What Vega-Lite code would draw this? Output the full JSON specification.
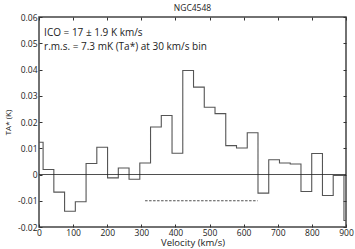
{
  "$schema": "https://vega.github.io/schema/vega-lite/v6.json",
  "autosize": "none",
  "width": 307,
  "height": 210,
  "padding": {"left": 39, "top": 17, "right": 9, "bottom": 22},
  "background": "white",
  "title": {"text": "NGC4548", "fontSize": 8.5, "font": "Open Sans", "fontWeight": "normal", "color": "#222", "offset": 1, "anchor": "middle"},
  "config": {
    "view": {"stroke": "#444", "strokeWidth": 1.5},
    "axis": {"labelFont": "Open Sans", "titleFont": "Open Sans", "labelColor": "#222", "titleColor": "#222", "grid": false, "domain": false, "tickColor": "#333", "tickWidth": 1}
  },
  "datasets": {
    "spec": [
      {"v": -19.5, "t": 0.0123}, {"v": 12, "t": 0.0019}, {"v": 43.5, "t": -0.0067}, {"v": 75, "t": -0.014},
      {"v": 106.5, "t": -0.0104}, {"v": 138, "t": 0.0042}, {"v": 169.5, "t": 0.0104}, {"v": 201, "t": -0.0013},
      {"v": 232.5, "t": 0.0025}, {"v": 264, "t": -0.0018}, {"v": 295.5, "t": 0.0044}, {"v": 327, "t": 0.0181},
      {"v": 358.5, "t": 0.0225}, {"v": 390, "t": 0.0081}, {"v": 421.5, "t": 0.0396}, {"v": 453, "t": 0.0333},
      {"v": 484.5, "t": 0.0256}, {"v": 516, "t": 0.0232}, {"v": 547.5, "t": 0.011}, {"v": 579, "t": 0.0101},
      {"v": 610.5, "t": 0.0159}, {"v": 642, "t": -0.0071}, {"v": 673.5, "t": 0.0056}, {"v": 705, "t": 0.0044},
      {"v": 736.5, "t": 0.004}, {"v": 768, "t": -0.0065}, {"v": 799.5, "t": 0.008}, {"v": 831, "t": -0.008},
      {"v": 862.5, "t": -0.0004}, {"v": 894, "t": -0.0175}, {"v": 925.5, "t": -0.0175}
    ],
    "zero": [{"v": 0, "t": 0}, {"v": 900, "t": 0}],
    "dash": [{"v": 311, "t": -0.01}, {"v": 641, "t": -0.01}],
    "notes": [
      {"v": 15, "t": 0.0527, "label": "ICO = 17 ± 1.9 K km/s"},
      {"v": 15, "t": 0.0474, "label": "r.m.s. = 7.3 mK (Ta*) at 30 km/s bin"}
    ]
  },
  "resolve": {"axis": {"x": "independent", "y": "independent"}},
  "layer": [
    {
      "data": {"name": "spec"},
      "mark": {"type": "line", "interpolate": "step-after", "clip": true, "color": "#555", "strokeWidth": 1.1},
      "encoding": {
        "x": {"field": "v", "type": "quantitative", "scale": {"domain": [0, 900], "nice": false},
          "axis": {"title": "Velocity (km/s)", "titleFontSize": 9.5, "titleFontWeight": "normal", "titlePadding": 1, "labelFontSize": 8.5, "values": [0,100,200,300,400,500,600,700,800,900], "tickSize": -3, "labelPadding": 4, "labelFlush": false}},
        "y": {"field": "t", "type": "quantitative", "scale": {"domain": [-0.02, 0.06], "nice": false},
          "axis": {"title": "TA* (K)", "titleFontSize": 8, "titleFontWeight": "normal", "titlePadding": 5, "labelFontSize": 8.5, "values": [-0.02,-0.01,0,0.01,0.02,0.03,0.04,0.05,0.06], "tickSize": -3, "labelPadding": 5,
            "labelExpr": "datum.value == 0 ? '0' : replace(format(datum.value, '.2f'), '\u2212', '-')"}}
      }
    },
    {
      "data": {"name": "zero"},
      "mark": {"type": "line", "color": "#222", "strokeWidth": 0.8},
      "encoding": {
        "x": {"field": "v", "type": "quantitative", "axis": {"orient": "top", "labels": false, "title": null, "values": [0,100,200,300,400,500,600,700,800,900], "tickSize": -3}},
        "y": {"field": "t", "type": "quantitative", "axis": {"orient": "right", "labels": false, "title": null, "values": [-0.02,-0.01,0,0.01,0.02,0.03,0.04,0.05,0.06], "tickSize": -3}}
      }
    },
    {
      "data": {"name": "dash"},
      "mark": {"type": "line", "color": "#222", "strokeWidth": 0.8, "strokeDash": [2.5, 1.5]},
      "encoding": {
        "x": {"field": "v", "type": "quantitative", "axis": null},
        "y": {"field": "t", "type": "quantitative", "axis": null}
      }
    },
    {
      "data": {"name": "notes"},
      "mark": {"type": "text", "align": "left", "baseline": "alphabetic", "font": "Open Sans", "fontSize": 10, "color": "#222"},
      "encoding": {
        "x": {"field": "v", "type": "quantitative", "axis": null},
        "y": {"field": "t", "type": "quantitative", "axis": null},
        "text": {"field": "label"}
      }
    }
  ]
}
